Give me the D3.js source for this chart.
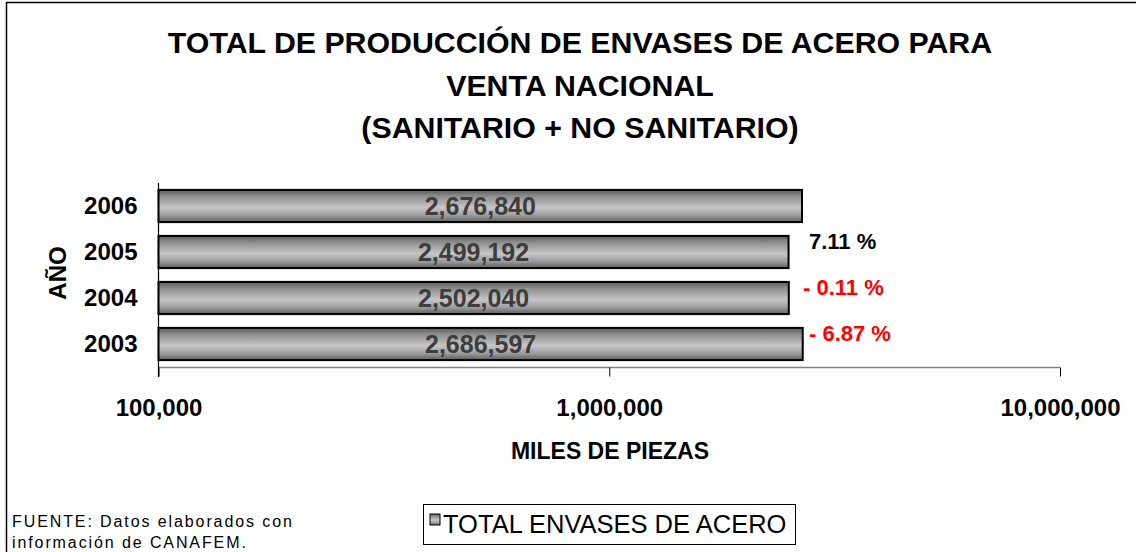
<!DOCTYPE html>
<html>
<head>
<meta charset="utf-8">
<script src="https://cdn.jsdelivr.net/npm/d3@7"></script>
<style>
  html, body { margin: 0; padding: 0; background: #fff; }
  svg { display: block; font-family: "Liberation Sans", Arial, sans-serif; }
</style>
</head>
<body>
<svg id="chart" width="1136" height="552"></svg>
<script>
// Production of steel containers for national sale (thousands of pieces)
const years = ["2006", "2005", "2004", "2003"];
const totals = [2676840, 2499192, 2502040, 2686597];
const changeYears = ["2005", "2004", "2003"];
const changeLabels = ["7.11 %", "- 0.11 %", "- 6.87 %"];
const changeColors = ["#000000", "#ff0000", "#ff0000"];
const tickValues = [100000, 1000000, 10000000];
const titleLines = [
  "TOTAL DE PRODUCCIÓN DE ENVASES DE ACERO PARA",
  "VENTA NACIONAL",
  "(SANITARIO + NO SANITARIO)"
];

const svg = d3.select("#chart");
const fmt = d3.format(",");

// outer frame
svg.append("rect")
  .attr("x", 6.5).attr("y", 2.5)
  .attr("width", 1140).attr("height", 560)
  .attr("fill", "none").attr("stroke", "#000").attr("stroke-width", 1.5);

// metallic gradient for the bars
const defs = svg.append("defs");
const grad = defs.append("linearGradient")
  .attr("id", "steel").attr("x1", 0).attr("y1", 0).attr("x2", 0).attr("y2", 1);
[[0, "#5a5a5a"], [0.2, "#8e8e8e"], [0.55, "#c6c6c6"], [0.8, "#9a9a9a"], [1, "#5e5e5e"]]
  .forEach(([o, c]) => grad.append("stop").attr("offset", o).attr("stop-color", c));

// title
svg.append("g").selectAll("text")
  .data(titleLines).join("text")
  .attr("x", 580).attr("y", (d, i) => 53 + i * 42.5)
  .attr("text-anchor", "middle")
  .attr("font-size", 30.3).attr("font-weight", "bold")
  .text(d => d);

// scales
const x = d3.scaleLog().domain([100000, 10000000]).range([158.5, 1060]);
const y = d3.scaleBand().domain(years).range([183, 367]).paddingInner(0.3).paddingOuter(0.15);

// plot axes lines
svg.append("line")
  .attr("x1", 158.5).attr("x2", 1060).attr("y1", 367.5).attr("y2", 367.5)
  .attr("stroke", "#808080").attr("stroke-width", 1.5);
svg.append("line")
  .attr("x1", 158.5).attr("x2", 158.5).attr("y1", 183).attr("y2", 377)
  .attr("stroke", "#000").attr("stroke-width", 1.2);

// x axis ticks and labels
const xAxis = d3.axisBottom(x).tickValues(tickValues).tickSize(9).tickPadding(22).tickFormat(fmt);
const gx = svg.append("g").attr("transform", "translate(0,367.5)").call(xAxis);
gx.select(".domain").remove();
gx.selectAll(".tick line").attr("stroke", "#000");
gx.selectAll(".tick text")
  .attr("font-family", "Liberation Sans, Arial, sans-serif")
  .attr("font-size", 24).attr("font-weight", "bold").attr("fill", "#000");

// y axis labels
const yAxis = d3.axisLeft(y).tickSize(0).tickPadding(21);
const gy = svg.append("g").attr("transform", "translate(158.5,0)").call(yAxis);
gy.select(".domain").remove();
gy.selectAll(".tick text")
  .attr("font-family", "Liberation Sans, Arial, sans-serif")
  .attr("font-size", 24).attr("font-weight", "bold").attr("fill", "#000");

// bars
const rows = years.map((yr, i) => ({ year: yr, value: totals[i] }));
svg.append("g").selectAll("rect")
  .data(rows).join("rect")
  .attr("x", x(100000))
  .attr("y", d => y(d.year))
  .attr("width", d => x(d.value) - x(100000))
  .attr("height", y.bandwidth())
  .attr("fill", "url(#steel)")
  .attr("stroke", "#000").attr("stroke-width", 2);

// value labels inside bars
svg.append("g").selectAll("text")
  .data(rows).join("text")
  .attr("x", d => (x(100000) + x(d.value)) / 2)
  .attr("y", d => y(d.year) + y.bandwidth() / 2 + 8.5)
  .attr("text-anchor", "middle")
  .attr("font-size", 25).attr("font-weight", "bold").attr("fill", "#3d3d3d")
  .text(d => fmt(d.value));

// year-over-year change annotations
const changes = changeYears.map((yr, i) => ({ year: yr, label: changeLabels[i], color: changeColors[i] }));
const chgX = { "2005": 809, "2004": 803, "2003": 809 };
svg.append("g").selectAll("text")
  .data(changes).join("text")
  .attr("x", d => chgX[d.year])
  .attr("y", d => y(d.year) + y.bandwidth() / 2 - 3)
  .attr("font-size", 22).attr("font-weight", "bold").attr("fill", d => d.color)
  .text(d => d.label);

// axis titles
svg.append("text")
  .attr("x", 610).attr("y", 459)
  .attr("text-anchor", "middle")
  .attr("font-size", 23).attr("font-weight", "bold")
  .text("MILES DE PIEZAS");
svg.append("text")
  .attr("transform", "translate(66,273) rotate(-90)")
  .attr("text-anchor", "middle")
  .attr("font-size", 24).attr("font-weight", "bold")
  .text("AÑO");

// legend
const lg = svg.append("g");
lg.append("rect")
  .attr("x", 423.5).attr("y", 504.5).attr("width", 372).attr("height", 40)
  .attr("fill", "#fff").attr("stroke", "#000").attr("stroke-width", 1);
lg.append("rect")
  .attr("x", 430).attr("y", 514).attr("width", 10).attr("height", 11)
  .attr("fill", "url(#steel)").attr("stroke", "#000").attr("stroke-width", 1);
lg.append("text")
  .attr("x", 443).attr("y", 533)
  .attr("font-size", 25.5)
  .text("TOTAL ENVASES DE ACERO");

// source note
const src = svg.append("text").attr("font-size", 16).attr("letter-spacing", 1.9);
src.append("tspan").attr("x", 12).attr("y", 527).text("FUENTE: Datos elaborados con");
src.append("tspan").attr("x", 12).attr("y", 548).text("información de CANAFEM.");
</script>
</body>
</html>
